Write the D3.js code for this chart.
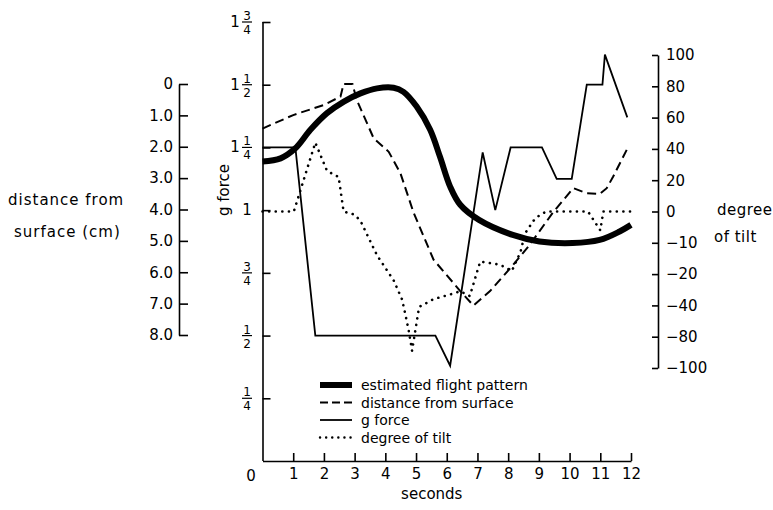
<!DOCTYPE html>
<html>
<head>
<meta charset="utf-8">
<script src="https://cdn.jsdelivr.net/npm/d3@7"></script>
<style>
  html, body { margin: 0; padding: 0; background: #fff; }
  svg { display: block; }
  text { font-family: "DejaVu Sans", sans-serif; fill: #000; }
</style>
</head>
<body>
<svg id="chart" width="773" height="510"></svg>
<script>
// ---------------- data ----------------
const secondTicks = [0, 1, 2, 3, 4, 5, 6, 7, 8, 9, 10, 11, 12];
const distanceTicks = [0, 1, 2, 3, 4, 5, 6, 7, 8];
const distanceTickLabels = ["0", "1.0", "2.0", "3.0", "4.0", "5.0", "6.0", "7.0", "8.0"];
const gTicks = [0.25, 0.5, 0.75, 1, 1.25, 1.5, 1.75];
const gTickLabels = ["1/4", "1/2", "3/4", "1", "1 1/4", "1 1/2", "1 3/4"];
const tiltTicks = [100, 80, 60, 40, 20, 0, -10, -20, -40, -80, -100];

// estimated flight pattern (plotted against distance from surface, cm)
const flightTime  = [0, 0.59, 1.07, 1.56, 2.1, 2.65, 3.19, 3.73, 4.27, 4.59, 5.02, 5.46, 5.78, 6.11, 6.44, 7.05, 8.15, 9.02, 10.1, 10.98, 11.63, 12];
const flightDepth = [2.47, 2.37, 2.05, 1.46, 0.93, 0.56, 0.30, 0.14, 0.12, 0.25, 0.72, 1.46, 2.32, 3.27, 3.85, 4.33, 4.81, 5.02, 5.07, 4.97, 4.70, 4.49];

// distance from surface (cm)
const distTime  = [0, 1.0, 1.99, 2.54, 2.64, 2.93, 3.07, 3.62, 4.11, 4.49, 4.92, 5.57, 6.44, 6.87, 7.41, 8.07, 8.66, 9.47, 10.12, 10.56, 10.99, 11.21, 11.42, 11.86];
const distValue = [1.42, 0.99, 0.67, 0.40, 0.0, 0.0, 0.51, 1.73, 2.16, 2.84, 4.1, 5.6, 6.6, 7.06, 6.6, 5.87, 5.18, 4.08, 3.32, 3.48, 3.5, 3.32, 2.95, 2.10];

// g force
const gTime  = [0, 1.07, 1.72, 5.63, 6.11, 7.17, 7.58, 8.08, 9.1, 9.58, 10.07, 10.56, 11.07, 11.15, 11.88];
const gValue = [1.25, 1.25, 0.5, 0.5, 0.38, 1.23, 1.0, 1.25, 1.25, 1.125, 1.125, 1.5, 1.5, 1.62, 1.37];

// degree of tilt
const tiltTime  = [0, 1.02, 1.72, 2.1, 2.48, 2.64, 3.0, 3.19, 3.73, 4.27, 4.54, 4.65, 4.76, 4.87, 5.1, 5.57, 6.11, 6.44, 6.75, 7.09, 7.74, 8.12, 8.4, 8.55, 8.82, 9.04, 9.26, 10.6, 11.0, 11.1, 12];
const tiltValue = [0, 0, 44, 26, 22, 0, -1, -3, -14, -24, -36, -51, -72, -89, -42, -36, -33, -31, -34, -16, -17, -19, -13, -7, -3, -1, 0, 0, -6, 0, 0];

const legendLabels = ["estimated flight pattern", "distance from surface", "g force", "degree of tilt"];

// ---------------- layout ----------------
const svg = d3.select("#chart");
const X0 = 262.5, X1 = 631;
const x = d3.scaleLinear().domain([0, 12]).range([X0, X1]);
const yG = d3.scaleLinear().domain([0, 1.75]).range([461, 22]);
const yDist = d3.scaleLinear().domain([0, 8]).range([84, 335]);
const tiltTop = 55, tiltBottom = 368;
const yTilt = d3.scaleLinear()
  .domain(tiltTicks)
  .range(tiltTicks.map((d, i) => tiltTop + i * (tiltBottom - tiltTop) / (tiltTicks.length - 1)));

// ---------------- axes ----------------
// bottom axis (seconds)
const xAxis = d3.axisBottom(x).tickValues(secondTicks.slice(1)).tickSizeInner(-8).tickSizeOuter(0).tickPadding(7).tickFormat(d3.format("d"));
const gx = svg.append("g").attr("transform", "translate(0,461)").call(xAxis);
gx.selectAll("text").style("font-size", "15px").style("font-family", "DejaVu Sans");
svg.append("text").attr("x", 251).attr("y", 481).attr("text-anchor", "middle").style("font-size", "15px").text("0");
svg.append("text").attr("x", x(6) - 15).attr("y", 499).attr("text-anchor", "middle").style("font-size", "15px").text("seconds");

// g force axis
const gAxis = d3.axisLeft(yG).tickValues(gTicks).tickSizeInner(-8).tickSizeOuter(0).tickFormat("");
const gg = svg.append("g").attr("transform", `translate(${X0},0)`).call(gAxis);
gg.select(".domain").attr("d", `M0.5,${yG(1.75)}V${yG(0)}`);
// fraction labels
gTicks.forEach((v, i) => {
  const lab = gTickLabels[i];
  const parts = lab.split(" ");
  let whole = null, frac = null;
  if (parts.length === 2) { whole = parts[0]; frac = parts[1]; }
  else if (lab.includes("/")) { frac = lab; }
  else { whole = lab; }
  const yy = yG(v);
  const fx = 247;
  if (frac) {
    const [n, d] = frac.split("/");
    svg.append("text").attr("x", fx).attr("y", yy - 2).attr("text-anchor", "middle").style("font-size", "12px").text(n);
    svg.append("line").attr("x1", fx - 5).attr("x2", fx + 5).attr("y1", yy).attr("y2", yy).attr("stroke", "#000").attr("stroke-width", 1.2);
    svg.append("text").attr("x", fx).attr("y", yy + 12).attr("text-anchor", "middle").style("font-size", "12px").text(d);
    if (whole) svg.append("text").attr("x", 235).attr("y", yy + 5).attr("text-anchor", "middle").style("font-size", "15px").text(whole);
  } else {
    svg.append("text").attr("x", fx).attr("y", yy + 5).attr("text-anchor", "middle").style("font-size", "15px").text(whole);
  }
});
svg.append("text").attr("transform", "translate(229,190) rotate(-90)").attr("text-anchor", "middle").style("font-size", "15px").text("g force");

// distance axis
const dAxis = d3.axisLeft(yDist).tickValues(distanceTicks).tickSizeInner(-9).tickSizeOuter(0).tickPadding(6)
  .tickFormat((d, i) => distanceTickLabels[i]);
const gd = svg.append("g").attr("transform", "translate(179,0)").call(dAxis);
gd.selectAll("text").style("font-size", "15px").style("font-family", "DejaVu Sans");
svg.append("text").attr("x", 8).attr("y", 205).style("font-size", "15px").style("letter-spacing", "1px").text("distance from");
svg.append("text").attr("x", 14).attr("y", 237).style("font-size", "15px").style("letter-spacing", "1px").text("surface (cm)");

// tilt axis
const tAxis = d3.axisRight(yTilt).tickValues(tiltTicks).tickSizeInner(-6).tickSizeOuter(0).tickPadding(8).tickFormat(d3.format("d"));
const gt = svg.append("g").attr("transform", "translate(658,0)").call(tAxis);
gt.selectAll("text").style("font-size", "15px").style("font-family", "DejaVu Sans");
svg.append("text").attr("x", 717).attr("y", 215).style("font-size", "15px").style("letter-spacing", "0.5px").text("degree");
svg.append("text").attr("x", 714).attr("y", 242).style("font-size", "15px").style("letter-spacing", "0.5px").text("of tilt");

svg.selectAll(".domain, .tick line").attr("stroke", "#000").attr("stroke-width", 1.6);

// ---------------- lines ----------------
const flightLine = d3.line().x((d, i) => x(flightTime[i])).y((d) => yDist(d)).curve(d3.curveCatmullRom.alpha(0.5));
svg.append("path").datum(flightDepth).attr("d", flightLine).attr("fill", "none").attr("stroke", "#000").attr("stroke-width", 6);

const distLine = d3.line().x((d, i) => x(distTime[i])).y((d) => yDist(d));
svg.append("path").datum(distValue).attr("d", distLine).attr("fill", "none").attr("stroke", "#000").attr("stroke-width", 2).attr("stroke-dasharray", "9,5");

const gLine = d3.line().x((d, i) => x(gTime[i])).y((d) => yG(d));
svg.append("path").datum(gValue).attr("d", gLine).attr("fill", "none").attr("stroke", "#000").attr("stroke-width", 1.8).attr("stroke-linejoin", "miter");

const tiltLine = d3.line().x((d, i) => x(tiltTime[i])).y((d) => yTilt(d));
svg.append("path").datum(tiltValue).attr("d", tiltLine).attr("fill", "none").attr("stroke", "#000").attr("stroke-width", 2.6).attr("stroke-linecap", "round").attr("stroke-dasharray", "0.1,6.5");

// ---------------- legend ----------------
const legY = [385, 402.5, 420, 437.5];
const legStyles = [
  { w: 6, dash: null, cap: "butt" },
  { w: 2, dash: "8,4", cap: "butt" },
  { w: 1.8, dash: null, cap: "butt" },
  { w: 2.4, dash: "0.1,6", cap: "round" }
];
legendLabels.forEach((lab, i) => {
  const ln = svg.append("line").attr("x1", 320).attr("x2", 352).attr("y1", legY[i]).attr("y2", legY[i])
    .attr("stroke", "#000").attr("stroke-width", legStyles[i].w).attr("stroke-linecap", legStyles[i].cap);
  if (legStyles[i].dash) ln.attr("stroke-dasharray", legStyles[i].dash);
  svg.append("text").attr("x", 361).attr("y", legY[i] + 5).style("font-size", "14px").text(lab);
});
</script>
</body>
</html>
